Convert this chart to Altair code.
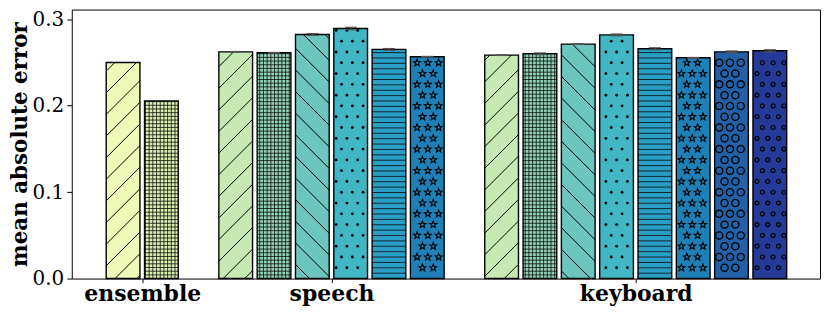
import math
import altair as alt
import pandas as pd

# ---------------- data ----------------
groups = ["ensemble", "speech", "keyboard"]
ensemble_mae = [0.2500, 0.2055]
speech_mae = [0.2623, 0.2612, 0.2824, 0.2893, 0.2651, 0.2566]
keyboard_mae = [0.2585, 0.2600, 0.2712, 0.2819, 0.2658, 0.2554, 0.2623, 0.2635]
ensemble_err = [0.0, 0.0]
speech_err = [0.0004, 0.0004, 0.0010, 0.0014, 0.0010, 0.0004]
keyboard_err = [0.0004, 0.0010, 0.0004, 0.0010, 0.0012, 0.0004, 0.0010, 0.0012]
ensemble_colors = ["#eff9b8", "#dcf1b2"]
model_colors = ["#c7e9b4", "#93d4b9", "#6cc5be", "#41b6c4",
                "#2b9ec5", "#1f80b8", "#2260a8", "#253a97"]
ensemble_hatch = ["ne", "grid"]
model_hatch = ["ne", "grid", "nw", "dots", "hlines", "stars", "rings", "smallrings"]

# ---------------- layout / style constants ----------------
GAP = 0.94          # empty slots between groups
HALF = 0.44         # half bar width in slot units
XMIN, XMAX = -1.339, 18.19
W, H = 751, 270
YMAX = 0.3112
PXX = W / (XMAX - XMIN)
PXY = H / YMAX
S_DIAG = 21.7       # diagonal hatch spacing (px)
S_GRID = 3.7        # grid hatch spacing (px)
S_HL = 5.4          # horizontal hatch spacing (px)
S_SH = 10.83        # shape hatch spacing (px)
CAP = 6.0 / PXX     # half cap width in slot units

rows = []
centers = []
start = 0.0
for g, vals, errs, cols, hats in [
    ("ensemble", ensemble_mae, ensemble_err, ensemble_colors, ensemble_hatch),
    ("speech", speech_mae, speech_err, model_colors, model_hatch),
    ("keyboard", keyboard_mae, keyboard_err, model_colors, model_hatch),
]:
    for i, v in enumerate(vals):
        rows.append(dict(group=g, pos=start + i, value=v, err=errs[i],
                         color=cols[i], hatch=hats[i]))
    centers.append(start + (len(vals) - 1) / 2)
    start += len(vals) + GAP
df = pd.DataFrame(rows)

label_expr = (f"datum.value < {(centers[0] + centers[1]) / 2} ? '{groups[0]}' : "
              f"datum.value < {(centers[1] + centers[2]) / 2} ? '{groups[1]}' : '{groups[2]}'")

xscale = alt.Scale(domain=[XMIN, XMAX], nice=False, zero=False)
yscale = alt.Scale(domain=[0, YMAX], nice=False, zero=False)
xaxis = alt.Axis(values=centers, labelExpr=label_expr, title=None, tickSize=4,
                 labelFont="DejaVu Serif", labelFontWeight="bold", labelFontSize=22,
                 labelPadding=1, domain=False, grid=False, labelColor="black",
                 tickColor="black")
yaxis = alt.Axis(values=[0.0, 0.1, 0.2, 0.3], format=".1f", title="mean absolute error",
                 tickSize=5, labelFont="DejaVu Serif", labelFontSize=20, labelPadding=3,
                 titleFont="DejaVu Serif", titleFontWeight="bold", titleFontSize=21.5,
                 titlePadding=1, domain=False, grid=False, labelColor="black",
                 titleColor="black", tickColor="black")


def X(f):
    return alt.X(f"{f}:Q", scale=xscale, axis=xaxis)


def Y(f):
    return alt.Y(f"{f}:Q", scale=yscale, axis=yaxis)


base = alt.Chart(df).transform_calculate(
    xl=f"datum.pos - {HALF}",
    xr=f"datum.pos + {HALF}",
    L=f"(datum.pos - {HALF} - ({XMIN})) * {PXX}",
    R=f"(datum.pos + {HALF} - ({XMIN})) * {PXX}",
    T=f"datum.value * {PXY}",
)

fill_layer = base.mark_bar(opacity=1).encode(
    x=X("xl"), x2="xr", y=Y("value"), y2=alt.datum(0),
    fill=alt.Color("color:N", scale=None),
)

ne_layer = base.transform_filter("datum.hatch == 'ne'").transform_calculate(
    ks=f"sequence(floor(-datum.R / {S_DIAG}), ceil((datum.T - datum.L) / {S_DIAG}) + 1)"
).transform_flatten(["ks"], as_=["k"]).transform_calculate(
    c=f"datum.k * {S_DIAG}",
).transform_calculate(
    p1="max(datum.L, -datum.c)",
    p2="min(datum.R, datum.T - datum.c)",
).transform_filter("datum.p2 > datum.p1 + 0.3").transform_calculate(
    hx1=f"{XMIN} + datum.p1 / {PXX}",
    hx2=f"{XMIN} + datum.p2 / {PXX}",
    hy1=f"(datum.p1 + datum.c) / {PXY}",
    hy2=f"(datum.p2 + datum.c) / {PXY}",
).mark_rule(color="black", strokeWidth=1, opacity=1).encode(
    x=X("hx1"), x2="hx2", y=Y("hy1"), y2="hy2")

nw_layer = base.transform_filter("datum.hatch == 'nw'").transform_calculate(
    ks=f"sequence(floor(datum.L / {S_DIAG}), ceil((datum.R + datum.T) / {S_DIAG}) + 1)"
).transform_flatten(["ks"], as_=["k"]).transform_calculate(
    c=f"datum.k * {S_DIAG}",
).transform_calculate(
    p1="max(datum.L, datum.c - datum.T)",
    p2="min(datum.R, datum.c)",
).transform_filter("datum.p2 > datum.p1 + 0.3").transform_calculate(
    hx1=f"{XMIN} + datum.p1 / {PXX}",
    hx2=f"{XMIN} + datum.p2 / {PXX}",
    hy1=f"(datum.c - datum.p1) / {PXY}",
    hy2=f"(datum.c - datum.p2) / {PXY}",
).mark_rule(color="black", strokeWidth=1, opacity=1).encode(
    x=X("hx1"), x2="hx2", y=Y("hy1"), y2="hy2")

hl_layer = base.transform_filter(
    "datum.hatch == 'grid' || datum.hatch == 'hlines'"
).transform_calculate(
    sp=f"datum.hatch == 'grid' ? {S_GRID} : {S_HL}",
).transform_calculate(
    ks="sequence(1, ceil(datum.T / datum.sp))",
).transform_flatten(["ks"], as_=["k"]).transform_calculate(
    py="datum.k * datum.sp",
).transform_filter("datum.py < datum.T - 0.3").transform_calculate(
    hy=f"datum.py / {PXY}",
).mark_rule(color="black", strokeWidth=1, opacity=0.75).encode(
    x=X("xl"), x2="xr", y=Y("hy"))

vl_layer = base.transform_filter("datum.hatch == 'grid'").transform_calculate(
    ks=f"sequence(ceil(datum.L / {S_GRID}), floor(datum.R / {S_GRID}) + 1)",
).transform_flatten(["ks"], as_=["k"]).transform_calculate(
    hx=f"{XMIN} + datum.k * {S_GRID} / {PXX}",
).mark_rule(color="black", strokeWidth=1, opacity=0.75).encode(
    x=X("hx"), y=Y("value"), y2=alt.datum(0))


def shape_layer(h, m, **mark_kw):
    return base.transform_filter(f"datum.hatch == '{h}'").transform_calculate(
        rs=f"sequence(0, ceil(datum.T / {S_SH}) + 1)",
        cs=f"sequence(floor(datum.L / {S_SH}) - 1, ceil(datum.R / {S_SH}) + 2)",
    ).transform_flatten(["rs"], as_=["r"]).transform_flatten(["cs"], as_=["ci"]).transform_calculate(
        px=f"datum.ci * {S_SH} + (datum.r % 2 == 1 ? {S_SH / 2} : 0)",
        py=f"datum.r * {S_SH}",
    ).transform_filter(
        f"datum.px >= datum.L + {m} && datum.px <= datum.R - {m} && "
        f"datum.py >= {m} && datum.py <= datum.T - {m}"
    ).transform_calculate(
        hx=f"{XMIN} + datum.px / {PXX}",
        hy=f"datum.py / {PXY}",
    ).mark_point(opacity=1, **mark_kw).encode(x=X("hx"), y=Y("hy"))


star_pts = []
for i in range(10):
    a = -math.pi / 2 + i * math.pi / 5
    r = 1.0 if i % 2 == 0 else 0.42
    star_pts.append(f"{r * math.cos(a):.3f},{r * math.sin(a):.3f}")
STAR = "M" + "L".join(star_pts) + "Z"

dots_layer = shape_layer("dots", 1.5, shape="circle", size=8, filled=True, color="black")
stars_layer = shape_layer("stars", 3.0, shape=STAR, size=52, filled=False, color="black",
                          strokeWidth=1.1)
rings_layer = shape_layer("rings", 3.5, shape="circle", size=52, filled=False, color="black",
                          strokeWidth=1.3)
srings_layer = shape_layer("smallrings", 2.0, shape="circle", size=16, filled=False,
                           color="black", strokeWidth=1.2)

outline_layer = base.mark_bar(fillOpacity=0, stroke="black", strokeWidth=1.4, opacity=1).encode(
    x=X("xl"), x2="xr", y=Y("value"), y2=alt.datum(0))

err_base = base.transform_filter("datum.err > 0").transform_calculate(
    lo="datum.value - datum.err",
    hi="datum.value + datum.err",
    cl=f"datum.pos - {CAP}",
    cr=f"datum.pos + {CAP}",
)
err_line = err_base.mark_rule(color="#555555", strokeWidth=1.2, opacity=1).encode(
    x=X("pos"), y=Y("lo"), y2="hi")
cap_hi = err_base.mark_rule(color="#555555", strokeWidth=1.2, opacity=1).encode(
    x=X("cl"), x2="cr", y=Y("hi"))
cap_lo = err_base.mark_rule(color="#555555", strokeWidth=1.2, opacity=1).encode(
    x=X("cl"), x2="cr", y=Y("lo"))

chart = alt.layer(
    fill_layer, ne_layer, nw_layer, hl_layer, vl_layer,
    dots_layer, stars_layer, rings_layer, srings_layer,
    outline_layer, err_line, cap_hi, cap_lo,
).properties(
    width=W, height=H,
    autosize=alt.AutoSizeParams(type="none"),
    padding={"left": 64, "top": 1, "right": 2, "bottom": 37},
    background="white",
).configure_view(stroke="black", strokeWidth=1)

chart.save("out.html", embed_options={"renderer": "svg", "actions": False})
